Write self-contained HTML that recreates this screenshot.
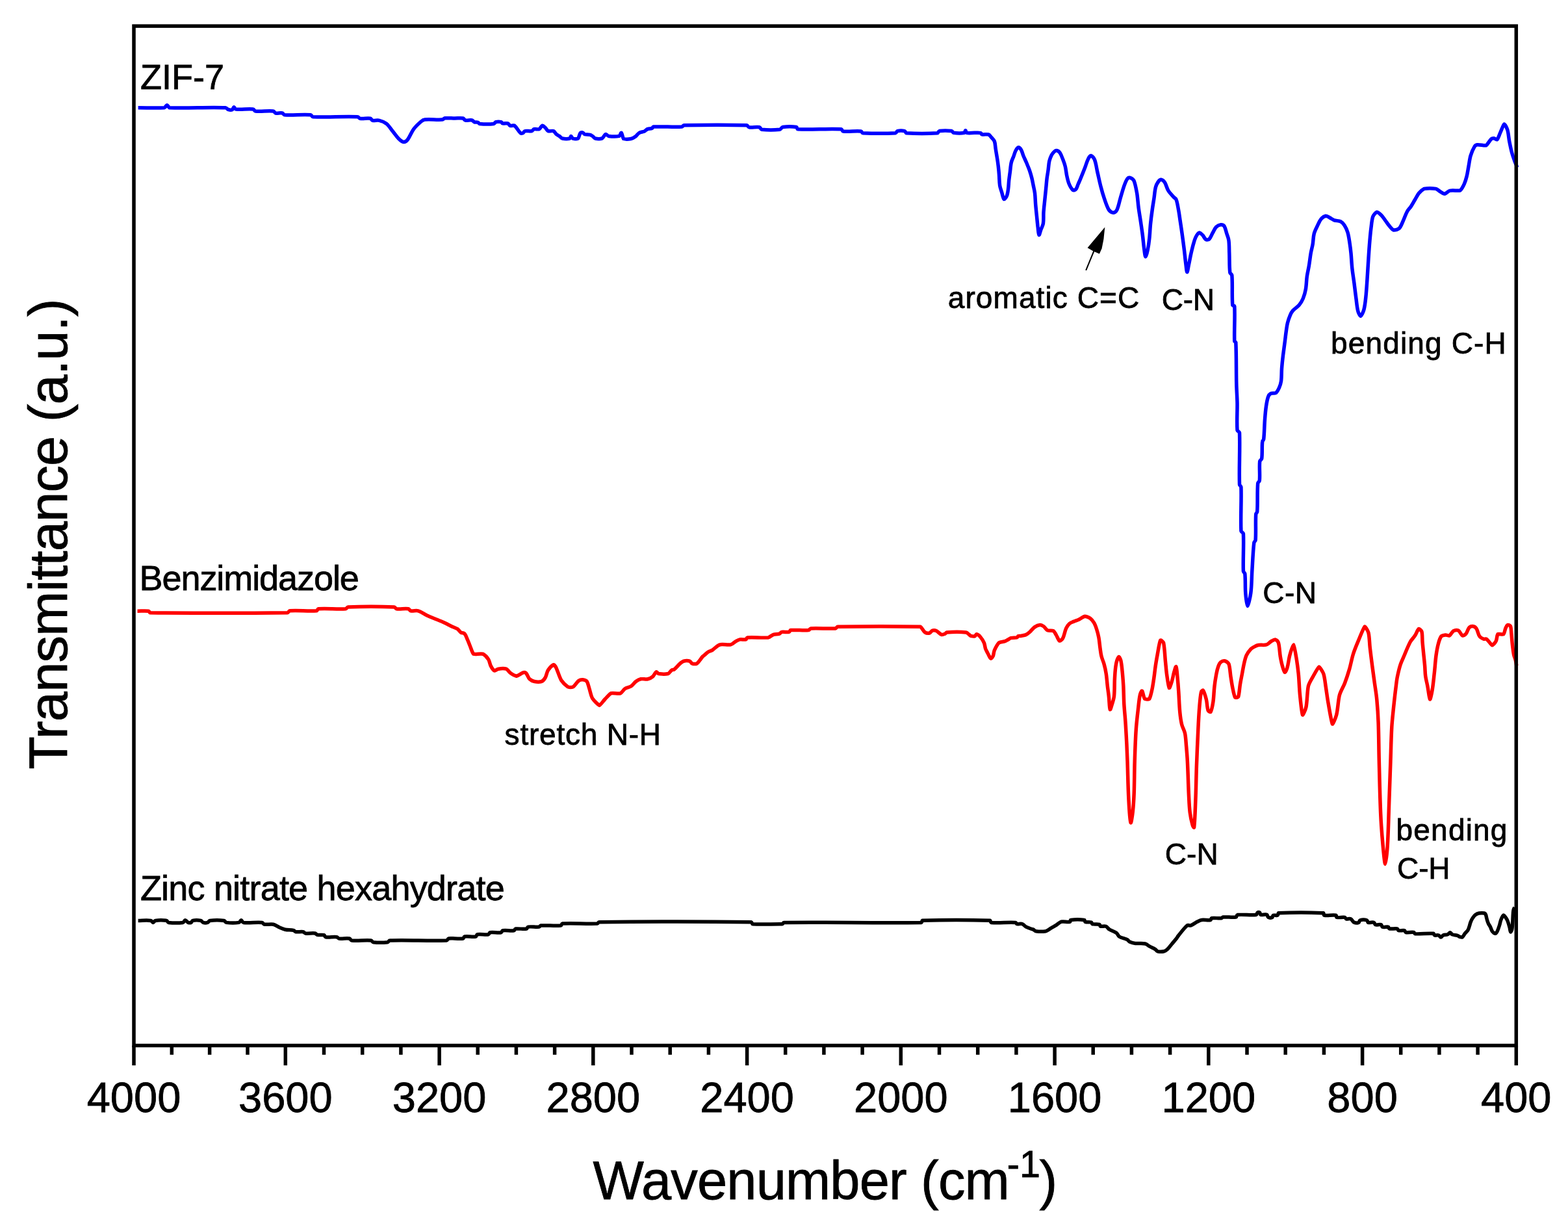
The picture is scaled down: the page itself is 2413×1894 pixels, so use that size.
<!DOCTYPE html>
<html><head><meta charset="utf-8"><title>FTIR spectra</title>
<style>html,body{margin:0;padding:0;background:#fff;}body{width:2413px;height:1894px;overflow:hidden;}svg{display:block;}</style>
</head><body>
<svg width="2413" height="1894" viewBox="0 0 2413 1894">
<rect width="2413" height="1894" fill="#fff"/>
<g fill="none" stroke-linejoin="round" stroke-linecap="butt" stroke-width="5.5">
<path stroke="#0000ff" d="M212.6,165.7C226.0,165.7 239.8,166.6 252.8,165.7C254.5,165.4 255.6,161.8 257.0,161.8C258.3,161.8 259.4,165.4 261.0,165.7C289.2,166.6 318.6,164.8 347.0,165.7C348.8,165.8 349.9,168.2 351.6,168.7C353.4,169.2 355.9,169.4 357.4,168.7C358.7,168.1 359.0,164.9 360.0,164.8C360.9,164.7 361.6,167.8 363.0,168.0C371.5,168.9 381.1,167.1 389.6,168.0C391.1,168.1 391.5,170.9 393.0,171.0C401.9,171.9 411.7,170.1 420.6,171.0C422.1,171.1 422.6,173.7 424.0,174.0C427.2,174.7 431.2,173.3 434.4,174.0C435.8,174.3 436.4,176.7 437.8,176.8C450.9,177.6 464.9,175.9 478.0,176.8C479.5,176.9 480.0,179.7 481.5,179.8C504.1,180.7 527.7,179.0 550.4,179.8C551.8,179.8 552.5,182.1 553.9,182.3C559.1,183.0 564.9,181.5 570.0,182.3C571.4,182.5 572.0,185.0 573.4,185.3C576.6,186.0 580.4,184.5 583.7,185.3C587.6,186.2 591.8,188.0 595.0,190.5C598.7,193.6 601.3,198.2 604.4,202.0C607.5,205.8 610.1,210.1 613.6,213.5C615.8,215.7 619.1,218.1 621.6,218.6C623.4,218.5 626.0,216.5 627.4,214.7C631.0,209.9 632.9,203.5 636.6,198.6C639.8,194.3 643.9,190.5 648.0,187.0C649.6,185.6 651.7,184.2 653.8,184.0C662.4,183.2 671.5,184.6 680.2,184.0C681.9,183.9 683.1,182.0 684.8,181.8C689.7,181.3 694.9,182.0 700.0,182.0C704.2,182.0 708.7,181.3 712.6,182.0C714.0,182.3 714.6,184.7 716.0,185.0C719.2,185.7 723.2,184.3 726.4,185.0C727.8,185.3 728.6,187.3 729.9,187.8C731.6,188.4 733.9,187.7 735.6,188.3C736.6,188.6 737.0,190.4 738.0,190.5C745.0,191.1 752.8,191.3 759.7,190.5C761.2,190.3 761.8,188.0 763.2,187.6C765.6,187.0 768.8,187.1 771.2,187.6C772.2,187.8 772.5,189.7 773.5,189.9C776.0,190.4 779.2,189.2 781.6,189.9C783.0,190.3 783.6,192.8 785.0,193.3C787.0,194.0 790.2,192.4 791.9,193.3C795.3,196.1 797.7,201.7 801.1,204.8C801.9,205.5 803.5,205.2 804.5,204.8C805.8,204.2 806.5,201.9 808.0,201.6C811.1,200.9 815.1,202.3 818.3,201.6C819.7,201.3 820.4,199.0 821.8,198.6C824.2,198.0 827.6,199.5 829.8,198.6C831.7,197.7 832.8,193.8 834.4,193.3C835.7,193.1 837.7,195.1 839.0,196.3C840.7,197.9 841.7,200.7 843.6,201.6C845.9,202.5 849.4,200.7 851.7,201.6C853.6,202.4 854.5,205.2 856.2,206.6C857.5,207.8 859.3,208.4 860.8,209.4C862.4,210.5 863.6,212.6 865.4,213.0C869.0,213.8 873.6,213.9 876.9,213.0C878.1,212.7 878.1,209.4 878.8,209.4C879.6,209.4 880.2,212.6 881.5,213.0C883.8,213.8 887.8,213.9 889.6,213.0C891.2,211.4 891.4,207.0 893.0,204.8C893.7,203.9 895.5,203.6 896.5,203.9C897.8,204.2 898.6,206.2 899.9,206.6C902.4,207.3 905.4,206.6 908.0,207.3C909.6,207.7 911.1,209.0 912.5,210.0C913.7,210.9 914.6,212.7 916.0,213.0C919.2,213.7 923.4,213.9 926.3,213.0C928.5,211.9 930.0,207.5 932.0,206.6C933.3,206.3 934.9,209.2 936.7,209.4C941.9,210.1 948.1,210.3 952.8,209.4C954.3,208.7 955.4,203.8 956.2,204.3C957.5,205.2 958.0,211.8 959.6,213.5C962.3,214.4 967.4,214.2 971.1,213.5C973.6,213.0 975.9,211.5 978.0,210.0C980.2,208.4 981.5,205.6 983.8,204.3C986.1,203.0 989.3,203.1 991.8,202.0C993.5,201.2 994.7,199.3 996.4,198.6C998.5,197.8 1001.2,198.2 1003.3,197.4C1004.3,197.0 1004.5,195.2 1005.6,195.1C1019.9,194.4 1034.9,195.8 1049.3,195.1C1050.6,195.0 1051.3,192.8 1052.7,192.8C1084.6,192.1 1117.4,191.9 1149.2,192.8C1150.7,192.9 1151.2,195.6 1152.7,195.8C1157.7,196.6 1163.7,194.9 1168.7,195.8C1170.2,196.1 1170.7,199.1 1172.2,199.3C1181.1,200.2 1191.1,200.2 1200.0,199.3C1201.8,199.0 1202.8,195.8 1204.6,195.5C1211.3,194.6 1219.2,194.6 1225.7,195.5C1226.8,195.7 1226.5,198.7 1227.6,198.8C1249.4,199.7 1272.8,197.9 1294.7,198.8C1296.0,198.9 1296.1,201.8 1297.4,202.0C1306.2,202.9 1316.1,201.2 1325.0,202.0C1326.3,202.1 1326.5,204.6 1327.8,204.7C1344.3,205.5 1361.9,205.6 1378.3,204.7C1379.6,204.6 1379.8,201.9 1381.0,201.6C1384.4,200.8 1388.7,200.8 1392.1,201.6C1393.4,201.9 1393.6,204.6 1394.9,204.7C1410.4,205.6 1427.1,205.6 1442.6,204.7C1443.9,204.6 1444.1,201.8 1445.4,201.6C1451.5,200.8 1458.6,200.9 1464.7,201.6C1465.9,201.8 1466.3,204.1 1467.5,204.3C1472.7,205.0 1479.1,205.2 1484.0,204.3C1485.1,204.0 1485.2,200.7 1485.8,200.7C1486.4,200.7 1486.5,204.0 1487.7,204.3C1491.3,205.2 1495.9,204.2 1500.0,204.3C1503.1,204.3 1506.6,203.9 1509.4,204.6C1510.3,204.8 1510.2,206.7 1511.1,206.9C1514.1,207.5 1518.2,206.0 1521.1,206.9C1523.0,207.6 1524.3,209.9 1525.8,211.6C1527.4,213.5 1529.6,215.2 1530.4,217.5C1531.7,221.1 1531.6,225.3 1532.2,229.2C1532.9,233.9 1533.8,238.5 1534.5,243.2C1535.2,247.5 1535.8,251.8 1536.3,256.1C1536.8,260.4 1537.2,264.7 1537.5,269.0C1537.9,274.5 1537.8,280.0 1538.6,285.4C1539.1,289.0 1540.5,292.4 1541.6,295.9C1542.7,299.5 1543.7,305.2 1545.1,306.5C1545.8,307.0 1548.4,303.7 1549.2,301.8C1550.6,298.6 1551.0,294.8 1551.5,291.2C1552.2,286.6 1552.2,281.9 1552.7,277.2C1553.2,272.9 1553.8,268.6 1554.4,264.3C1555.0,259.6 1555.2,254.9 1556.2,250.3C1556.9,247.1 1558.5,244.0 1559.7,240.9C1560.9,237.8 1561.6,234.4 1563.2,231.5C1564.2,229.7 1565.9,227.0 1567.3,226.8C1568.5,226.7 1570.5,228.9 1571.4,230.4C1573.0,233.2 1573.6,236.6 1574.9,239.7C1576.4,243.3 1578.1,246.7 1579.6,250.3C1581.2,254.2 1582.9,258.0 1584.3,262.0C1585.6,265.8 1586.8,269.8 1587.8,273.7C1588.8,277.6 1589.4,281.5 1590.2,285.4C1591.0,289.3 1592.0,293.2 1592.5,297.1C1593.2,302.9 1593.2,308.8 1593.7,314.7C1594.2,320.5 1594.8,326.4 1595.4,332.2C1596.0,338.1 1596.5,343.9 1597.2,349.8C1597.7,353.7 1598.0,360.8 1598.9,361.5C1599.6,362.0 1600.9,356.0 1601.9,353.3C1603.1,350.2 1604.9,347.2 1605.4,343.9C1606.3,338.2 1605.6,332.2 1606.0,326.4C1606.4,320.5 1607.1,314.7 1607.7,308.8C1608.3,302.9 1608.9,297.1 1609.5,291.2C1610.1,285.4 1610.5,279.5 1611.2,273.7C1611.7,269.8 1612.5,265.9 1613.0,262.0C1613.7,257.3 1613.8,252.5 1614.8,247.9C1615.5,244.7 1616.8,241.5 1618.3,238.5C1619.2,236.8 1620.4,235.2 1621.8,233.9C1622.9,232.8 1624.6,231.3 1625.9,231.5C1627.7,231.7 1629.9,233.4 1631.1,235.0C1633.2,238.1 1634.4,242.0 1635.8,245.6C1637.1,249.0 1638.4,252.5 1639.3,256.1C1640.4,260.7 1640.7,265.5 1641.7,270.2C1642.6,274.5 1643.5,279.0 1645.2,283.0C1646.6,286.4 1648.8,290.4 1651.1,292.4C1652.1,293.1 1654.8,292.3 1655.7,291.2C1657.5,289.2 1658.1,285.7 1659.3,283.0C1660.4,280.5 1661.6,278.0 1662.6,275.5C1665.0,269.7 1667.3,263.9 1669.6,258.0C1671.4,253.3 1672.6,248.3 1674.9,243.9C1675.8,242.1 1678.0,239.4 1679.2,239.5C1680.8,240.0 1683.6,243.2 1684.5,245.7C1686.8,251.7 1687.4,258.6 1688.9,265.0C1690.7,272.6 1692.2,280.3 1694.2,287.8C1695.7,293.7 1697.4,299.6 1699.4,305.4C1701.5,311.4 1703.4,317.8 1706.5,323.0C1708.0,325.0 1711.4,327.1 1713.5,327.3C1715.2,327.1 1717.8,324.9 1718.8,323.0C1721.3,317.7 1722.3,311.3 1724.0,305.4C1725.8,299.5 1727.3,293.6 1729.3,287.8C1730.8,283.6 1732.2,279.0 1734.6,275.5C1735.5,274.2 1737.6,273.1 1739.0,273.4C1741.1,274.0 1743.9,276.1 1745.1,278.2C1747.3,283.7 1748.4,290.4 1749.5,296.6C1750.8,304.1 1751.1,311.8 1752.1,319.4C1753.1,327.1 1754.5,334.7 1755.6,342.3C1756.5,348.7 1757.5,355.2 1758.3,361.6C1759.3,369.2 1759.8,376.8 1760.9,384.4C1761.4,388.0 1762.1,395.0 1763.0,395.0C1763.9,395.0 1765.5,388.0 1766.2,384.4C1767.4,378.6 1768.2,372.8 1768.8,366.9C1769.6,359.3 1769.8,351.6 1770.6,344.0C1771.3,337.0 1772.2,330.0 1773.2,323.0C1774.0,317.1 1775.0,311.3 1775.9,305.4C1776.8,299.5 1777.0,293.5 1778.5,287.8C1779.3,284.7 1781.0,281.5 1782.9,279.0C1783.9,277.7 1785.9,276.2 1787.3,276.4C1789.1,276.8 1791.3,278.9 1792.5,280.8C1794.8,284.5 1795.5,289.3 1797.8,293.1C1800.2,296.9 1803.6,300.2 1806.6,303.6C1807.7,304.8 1809.6,305.6 1810.1,307.1C1811.9,312.1 1812.6,317.7 1813.6,323.0C1814.7,328.8 1815.4,334.7 1816.3,340.5C1817.2,346.4 1818.1,352.2 1818.9,358.1C1820.1,366.9 1821.3,375.6 1822.4,384.4C1823.3,392.0 1824.0,399.7 1825.0,407.3C1825.5,411.1 1826.1,418.7 1826.8,418.7C1827.5,418.7 1828.6,411.1 1829.4,407.3C1830.7,401.4 1831.7,395.5 1833.0,389.7C1834.1,385.0 1835.2,380.3 1836.5,375.6C1837.5,372.1 1838.4,368.4 1840.0,365.1C1841.3,362.5 1843.4,359.0 1845.2,358.1C1846.5,357.9 1849.0,360.1 1850.5,361.6C1852.6,363.6 1853.7,367.3 1855.8,368.6C1857.1,369.3 1859.9,368.8 1861.0,367.7C1863.3,365.3 1864.5,361.3 1866.3,358.1C1868.0,355.1 1869.3,351.6 1871.6,349.3C1873.4,347.5 1876.2,346.1 1878.6,345.8C1880.3,345.6 1882.9,346.5 1883.9,347.8C1885.9,351.0 1886.6,355.7 1887.9,359.7C1889.0,363.0 1890.5,366.3 1890.9,369.7C1891.8,376.2 1891.5,383.0 1891.8,389.6C1892.2,399.5 1891.7,409.8 1892.8,419.4C1893.0,421.0 1895.7,421.8 1895.8,423.4C1897.0,438.4 1895.6,454.4 1896.8,469.2C1896.9,470.4 1899.7,470.1 1899.8,471.2C1900.7,488.6 1899.2,507.3 1899.8,524.9C1899.8,525.8 1901.8,526.0 1901.8,526.9C1902.8,547.9 1902.3,569.4 1902.8,590.6C1903.0,600.4 1903.8,610.2 1904.0,620.0C1904.2,633.9 1903.1,648.3 1904.0,661.8C1904.2,663.4 1907.3,664.2 1907.5,665.8C1908.4,691.9 1906.7,719.1 1907.5,745.4C1907.5,746.9 1909.8,747.9 1909.9,749.4C1910.6,771.7 1909.0,794.9 1909.9,817.0C1910.1,818.6 1913.2,819.4 1913.4,821.0C1914.3,839.9 1912.7,859.7 1913.4,878.8C1913.5,880.3 1915.6,881.2 1915.8,882.7C1916.8,892.5 1916.0,902.7 1916.8,912.6C1917.3,919.3 1918.9,932.4 1919.8,932.5C1920.8,932.4 1923.9,919.4 1924.8,912.6C1926.3,901.5 1926.1,890.1 1926.8,878.8C1927.7,864.2 1928.2,849.4 1929.8,835.0C1930.0,833.5 1932.0,832.5 1932.1,831.0C1933.0,817.9 1931.9,804.3 1932.7,791.2C1932.8,789.7 1934.6,788.7 1934.7,787.2C1935.6,772.7 1934.6,757.8 1935.7,743.4C1935.8,741.8 1938.2,741.0 1938.3,739.4C1939.2,729.7 1937.7,719.2 1938.7,709.6C1938.9,708.0 1941.5,707.2 1941.7,705.6C1942.8,697.2 1941.8,688.2 1942.7,679.7C1942.8,678.2 1944.5,677.2 1944.7,675.7C1945.8,665.6 1945.7,655.2 1946.5,645.0C1947.0,638.3 1947.5,631.6 1948.5,625.0C1949.2,620.1 1950.0,615.1 1951.6,610.5C1952.3,608.6 1953.8,606.4 1955.5,605.5C1957.7,604.4 1961.5,605.7 1963.5,604.5C1965.6,602.8 1967.2,599.4 1968.5,596.6C1969.9,593.5 1971.0,590.0 1971.5,586.6C1972.4,580.1 1972.0,573.3 1972.5,566.7C1973.0,560.1 1973.7,553.4 1974.5,546.8C1975.4,539.5 1976.5,532.2 1977.4,524.9C1978.1,519.6 1978.6,514.3 1979.4,509.0C1980.0,505.0 1980.4,500.9 1981.4,497.0C1982.4,493.0 1983.8,488.9 1985.4,485.1C1986.4,482.6 1987.7,480.1 1989.4,478.1C1992.3,474.8 1996.5,472.6 1999.3,469.2C2001.8,466.3 2003.8,462.8 2005.3,459.2C2007.1,454.8 2008.5,450.0 2009.3,445.3C2010.5,438.8 2010.4,432.0 2011.3,425.4C2012.0,420.1 2013.4,414.8 2014.3,409.5C2015.4,402.9 2016.1,396.2 2017.2,389.6C2018.0,384.9 2019.4,380.3 2020.2,375.6C2021.1,370.3 2020.9,364.8 2022.2,359.7C2023.2,355.6 2025.3,351.7 2027.2,347.8C2029.0,344.0 2030.6,339.9 2033.2,336.8C2034.9,334.7 2037.8,332.7 2040.1,332.2C2041.9,332.0 2044.2,333.8 2046.1,334.8C2048.5,336.0 2050.6,337.9 2053.1,338.8C2056.2,339.9 2060.1,339.4 2063.0,340.8C2065.4,342.0 2067.5,344.5 2069.0,346.8C2071.1,350.1 2072.9,353.9 2074.0,357.7C2075.5,362.8 2076.2,368.3 2077.0,373.6C2077.8,378.9 2078.5,384.3 2079.0,389.6C2079.8,397.6 2080.0,405.6 2080.9,413.5C2081.7,420.8 2082.9,428.0 2083.9,435.3C2084.9,443.3 2085.8,451.2 2086.9,459.2C2087.8,465.8 2088.2,472.7 2089.9,479.1C2090.6,481.8 2093.0,486.6 2093.9,486.4C2095.3,485.7 2098.0,480.0 2098.9,476.5C2100.6,470.1 2101.2,463.3 2101.9,456.6C2102.8,448.0 2103.3,439.3 2103.9,430.7C2104.6,420.1 2105.2,409.5 2105.9,398.9C2106.5,389.6 2107.1,380.3 2107.9,371.0C2108.5,364.4 2109.0,357.7 2109.9,351.1C2110.7,345.1 2111.0,338.7 2112.8,333.2C2113.9,330.5 2117.0,326.9 2118.8,326.2C2120.6,326.3 2123.8,329.2 2125.8,331.2C2128.1,333.5 2129.8,336.5 2131.8,339.1C2133.8,341.8 2135.5,344.6 2137.7,347.1C2139.8,349.6 2142.4,353.0 2144.7,354.1C2147.1,354.2 2151.4,352.8 2153.6,351.1C2156.2,348.0 2157.7,343.2 2159.6,339.1C2161.7,334.5 2163.2,329.6 2165.6,325.2C2167.2,322.3 2169.8,320.0 2171.6,317.2C2173.7,314.0 2175.5,310.6 2177.5,307.3C2179.5,304.0 2181.1,300.3 2183.5,297.3C2185.7,294.6 2188.7,291.7 2191.5,290.4C2196.9,289.5 2203.8,289.5 2209.4,290.4C2212.2,291.1 2214.6,293.9 2217.3,295.4C2219.2,296.5 2221.4,298.4 2223.3,298.3C2225.9,297.7 2228.4,294.1 2231.3,293.4C2236.3,292.4 2242.9,294.0 2247.2,293.0C2249.4,291.1 2251.6,286.8 2253.2,283.4C2254.9,279.6 2256.1,275.5 2257.1,271.5C2258.4,266.2 2259.1,260.8 2260.1,255.5C2261.1,250.2 2261.6,244.7 2263.1,239.6C2264.6,234.8 2266.6,229.9 2269.1,225.7C2269.9,224.3 2271.5,222.9 2273.1,222.7C2277.5,222.2 2283.3,224.3 2287.0,223.7C2289.8,221.7 2292.0,216.5 2295.0,213.7C2295.9,212.8 2297.6,212.6 2298.9,212.7C2300.6,212.9 2303.0,215.3 2303.9,214.7C2305.9,212.5 2307.2,207.4 2308.9,203.8C2310.9,199.5 2313.4,192.0 2314.9,190.9C2315.8,190.7 2318.9,196.6 2319.8,199.8C2321.5,205.5 2321.6,211.8 2322.8,217.7C2324.0,223.7 2325.2,229.7 2326.8,235.6C2327.9,239.7 2329.4,243.6 2330.8,247.6C2332.0,250.9 2333.5,254.2 2334.8,257.5"/>
<path stroke="#ff0000" d="M211.5,940.2C217.2,940.2 223.3,939.5 228.7,940.2C229.8,940.3 229.9,942.7 231.0,942.7C301.1,943.5 372.3,943.6 442.4,942.7C443.9,942.6 444.4,939.9 445.9,939.8C459.4,938.9 473.8,940.7 487.2,939.8C488.5,939.7 488.7,936.9 490.0,936.8C503.6,935.9 518.3,937.6 532.0,936.8C533.5,936.7 534.0,934.1 535.5,934.0C558.9,933.1 583.3,933.1 606.7,934.0C608.2,934.1 608.8,936.6 610.2,936.8C616.0,937.5 622.7,936.0 628.5,936.8C630.0,937.0 630.6,939.5 632.0,939.8C635.6,940.5 639.9,938.9 643.5,939.8C648.3,941.3 652.6,944.9 657.3,947.1C661.8,949.2 666.4,950.9 671.0,952.8C674.8,954.4 678.7,955.7 682.5,957.4C685.6,958.8 688.6,960.5 691.7,962.0C693.0,962.6 694.2,963.3 695.5,963.9C698.2,965.2 701.3,965.9 703.8,967.6C705.9,969.0 707.2,971.7 709.3,973.1C710.9,974.1 713.6,973.6 714.8,974.9C717.0,977.2 718.0,981.0 719.4,984.1C720.8,987.1 721.8,990.2 723.1,993.3C724.9,997.6 726.5,1003.6 728.6,1006.2C732.0,1007.1 739.0,1005.3 743.3,1006.2C746.3,1007.9 749.5,1011.2 751.6,1014.4C753.5,1017.4 753.6,1021.4 755.3,1024.6C756.7,1027.3 758.8,1030.8 760.8,1031.9C762.4,1032.2 765.0,1029.5 767.2,1029.2C771.1,1028.6 775.7,1028.3 779.2,1029.2C781.6,1030.3 783.2,1033.9 785.6,1035.6C788.4,1037.6 792.0,1039.8 794.8,1040.2C798.2,1039.5 802.1,1035.9 805.8,1034.7C807.0,1034.3 808.7,1034.7 809.5,1035.6C811.8,1038.1 812.6,1042.4 815.0,1044.8C816.9,1046.7 819.8,1048.0 822.4,1048.5C825.9,1049.2 830.2,1049.4 833.4,1048.5C835.6,1047.6 837.6,1045.2 838.9,1043.0C841.0,1039.4 841.3,1034.5 843.5,1031.0C845.6,1027.8 849.3,1024.0 851.8,1022.7C852.8,1022.4 854.6,1024.9 855.4,1026.4C858.6,1032.8 860.2,1040.4 863.7,1046.6C866.3,1050.4 870.2,1054.3 873.8,1056.7C876.1,1057.6 879.9,1057.6 882.1,1056.7C885.2,1054.6 887.2,1049.9 890.4,1047.5C892.1,1046.2 894.7,1045.5 896.8,1045.7C899.0,1045.9 901.9,1046.9 903.2,1048.5C905.1,1051.4 905.7,1055.8 906.9,1059.5C908.5,1064.4 909.2,1069.8 911.5,1074.2C914.3,1078.3 919.9,1083.9 922.5,1085.2C924.3,1084.5 928.0,1079.0 930.8,1076.0C933.8,1072.9 936.8,1068.8 940.0,1066.8C944.2,1065.9 950.4,1067.7 954.7,1066.8C957.4,1065.4 959.2,1061.4 962.0,1059.5C964.7,1057.7 968.6,1057.6 971.3,1055.8C974.1,1053.9 975.9,1050.5 978.6,1048.5C980.8,1046.9 983.4,1045.3 986.0,1044.8C989.5,1044.1 993.5,1045.5 997.0,1044.8C999.6,1044.3 1002.3,1042.8 1004.3,1041.1C1006.6,1039.2 1007.9,1034.9 1009.9,1033.8C1010.8,1033.4 1012.1,1036.3 1013.5,1036.5C1018.2,1037.2 1023.8,1037.4 1028.2,1036.5C1030.3,1035.7 1031.7,1032.4 1033.8,1031.0C1034.8,1030.3 1036.5,1030.8 1037.4,1030.1C1040.7,1027.5 1043.4,1023.7 1046.6,1020.9C1048.3,1019.4 1050.0,1017.7 1052.1,1017.2C1054.9,1016.5 1058.6,1016.4 1061.3,1017.2C1062.9,1017.6 1063.5,1020.4 1065.0,1020.9C1067.2,1021.6 1070.5,1021.8 1072.4,1020.9C1075.8,1018.3 1078.4,1013.4 1081.5,1009.9C1082.0,1009.3 1082.8,1009.0 1083.4,1008.5C1085.7,1006.6 1087.8,1004.3 1090.3,1002.7C1092.0,1001.6 1094.4,1001.5 1096.1,1000.4C1098.6,998.8 1100.6,996.4 1103.0,994.7C1104.8,993.5 1106.6,992.0 1108.7,991.7C1113.9,991.0 1119.7,992.6 1124.8,991.7C1127.3,991.1 1129.3,988.5 1131.7,987.1C1133.9,985.9 1136.2,984.4 1138.6,983.9C1141.5,983.3 1145.1,984.6 1147.8,983.9C1148.9,983.6 1148.9,981.0 1150.1,980.9C1160.4,980.0 1171.9,981.8 1182.3,980.9C1185.1,980.3 1187.4,977.3 1190.3,976.3C1193.2,975.3 1196.6,976.0 1199.5,975.1C1200.8,974.7 1201.5,972.6 1202.9,972.4C1206.5,971.7 1210.9,973.1 1214.4,972.4C1215.5,972.2 1215.5,969.7 1216.7,969.6C1225.5,968.8 1235.4,970.4 1244.3,969.6C1245.7,969.5 1246.3,967.0 1247.7,966.9C1260.1,966.1 1273.3,967.7 1285.7,966.9C1287.1,966.8 1287.7,964.3 1289.1,964.3C1331.3,963.5 1375.4,963.4 1416.6,964.3C1418.8,965.6 1420.7,970.9 1423.5,972.9C1425.3,974.1 1428.3,974.5 1430.4,974.0C1432.2,973.6 1433.2,970.7 1435.0,970.1C1436.7,969.5 1439.1,969.8 1440.8,970.6C1443.7,971.9 1445.9,975.4 1448.8,976.3C1450.5,976.9 1452.8,975.8 1454.5,975.1C1455.4,974.7 1455.8,973.0 1456.8,972.9C1466.5,972.2 1477.0,972.0 1486.7,972.9C1488.5,973.1 1489.7,975.2 1491.3,976.3C1492.4,977.1 1493.5,978.3 1494.8,978.6C1496.6,979.0 1498.9,979.2 1500.5,978.6C1501.5,978.2 1501.9,975.7 1502.8,975.8C1504.5,976.0 1507.0,978.0 1508.5,979.7C1510.8,982.4 1512.9,985.6 1514.3,988.9C1515.6,991.8 1515.6,995.1 1516.6,998.1C1517.5,1000.5 1518.8,1002.7 1520.0,1005.0C1521.5,1007.7 1523.0,1012.0 1524.6,1013.1C1525.4,1013.5 1527.4,1011.1 1528.1,1009.6C1529.4,1006.8 1529.1,1003.3 1530.4,1000.4C1532.2,996.4 1534.5,991.8 1537.3,988.9C1539.6,987.4 1543.5,987.6 1546.5,986.6C1548.1,986.1 1549.6,985.1 1551.1,984.3C1552.6,983.5 1553.9,982.0 1555.6,981.6C1558.5,980.9 1562.0,981.6 1564.8,980.9C1565.8,980.6 1566.2,979.0 1567.1,978.6C1567.9,978.2 1569.0,978.6 1570.0,978.5C1572.7,978.1 1575.7,977.9 1578.2,976.9C1580.4,976.0 1582.5,974.4 1584.3,972.8C1587.2,970.3 1589.4,966.7 1592.5,964.6C1594.9,963.0 1598.0,961.7 1600.7,961.5C1602.4,961.4 1604.4,962.5 1605.9,963.6C1608.2,965.3 1609.6,968.5 1612.0,969.7C1614.6,970.9 1618.7,969.5 1621.2,970.7C1623.0,971.9 1624.0,974.8 1625.3,976.9C1627.1,979.9 1628.8,984.8 1630.5,986.1C1631.5,986.4 1634.6,983.9 1635.6,982.0C1638.0,977.4 1638.5,971.5 1640.7,966.6C1641.9,964.0 1643.7,961.4 1645.8,959.5C1647.5,958.0 1649.9,957.3 1652.0,956.4C1654.7,955.2 1657.6,954.5 1660.2,953.3C1663.4,951.8 1666.4,948.8 1669.4,948.2C1671.9,948.2 1675.3,949.7 1677.6,951.3C1680.1,953.1 1682.1,955.7 1683.7,958.4C1685.5,961.5 1686.7,965.2 1687.8,968.7C1689.1,972.7 1690.1,976.8 1690.9,981.0C1691.9,986.4 1692.2,991.9 1693.0,997.4C1693.6,1001.5 1694.0,1005.7 1695.0,1009.7C1696.0,1013.9 1698.0,1017.8 1699.1,1022.0C1700.4,1026.7 1701.5,1031.5 1702.2,1036.3C1703.2,1042.4 1703.5,1048.6 1704.2,1054.8C1704.8,1060.2 1705.7,1065.7 1706.3,1071.1C1707.1,1077.9 1707.1,1088.7 1708.3,1091.6C1708.8,1092.8 1710.6,1086.2 1711.4,1083.4C1712.6,1079.4 1714.1,1075.3 1714.5,1071.1C1715.4,1061.7 1714.9,1052.0 1715.5,1042.5C1715.9,1035.7 1716.2,1028.7 1717.5,1022.0C1718.2,1018.1 1720.1,1012.1 1721.6,1010.7C1722.3,1010.1 1724.2,1013.9 1724.7,1015.8C1725.9,1020.4 1726.3,1025.4 1726.8,1030.2C1727.7,1038.4 1728.3,1046.6 1728.8,1054.8C1729.3,1064.3 1729.3,1073.9 1729.8,1083.4C1730.3,1092.3 1731.3,1101.2 1731.9,1110.1C1732.7,1121.7 1733.3,1133.3 1733.9,1144.9C1734.3,1153.8 1734.7,1162.7 1735.0,1171.6C1735.7,1191.4 1735.9,1211.2 1737.0,1231.0C1737.6,1242.6 1738.8,1261.6 1740.1,1265.8C1740.6,1267.8 1742.6,1254.9 1743.2,1249.4C1744.3,1239.9 1744.8,1230.3 1745.2,1220.7C1745.8,1204.3 1745.7,1188.0 1746.2,1171.6C1746.7,1155.2 1747.2,1138.8 1748.3,1122.4C1749.0,1112.1 1750.2,1101.9 1751.4,1091.6C1752.3,1084.1 1752.8,1076.4 1754.4,1069.1C1754.9,1066.9 1756.8,1062.4 1757.5,1063.0C1758.9,1064.4 1759.7,1072.4 1761.6,1075.2C1763.0,1076.1 1767.6,1076.1 1768.8,1075.2C1770.7,1071.8 1771.8,1065.7 1772.9,1060.9C1774.2,1054.8 1775.0,1048.6 1775.9,1042.5C1776.7,1037.0 1777.2,1031.6 1778.0,1026.1C1778.9,1019.9 1779.9,1013.7 1781.1,1007.6C1782.5,1000.1 1783.8,990.1 1785.8,985.1C1786.1,984.2 1790.0,987.3 1790.6,989.0C1792.4,998.1 1792.5,1008.3 1793.5,1018.0C1794.2,1024.4 1794.6,1030.9 1795.5,1037.3C1796.5,1044.4 1797.9,1055.8 1799.3,1058.5C1799.8,1059.6 1802.2,1052.2 1803.2,1048.9C1804.8,1043.8 1805.5,1038.5 1807.0,1033.4C1807.8,1030.8 1809.3,1024.8 1809.9,1025.7C1811.0,1027.4 1811.4,1036.0 1811.9,1041.1C1812.7,1048.8 1813.3,1056.6 1813.8,1064.3C1814.5,1074.6 1814.7,1084.9 1815.7,1095.2C1816.3,1101.7 1817.1,1108.3 1818.6,1114.6C1819.7,1119.2 1822.5,1123.5 1823.5,1128.1C1824.7,1133.8 1824.9,1139.7 1825.4,1145.5C1826.1,1153.9 1826.9,1162.2 1827.3,1170.6C1828.2,1187.3 1828.5,1204.1 1829.3,1220.8C1829.8,1230.5 1830.0,1240.2 1831.2,1249.8C1832.0,1256.3 1833.4,1262.8 1835.1,1269.1C1835.5,1270.6 1837.4,1274.3 1837.6,1273.0C1839.0,1261.4 1839.3,1244.7 1839.9,1230.5C1840.6,1213.1 1840.8,1195.7 1841.4,1178.3C1842.1,1159.6 1842.9,1141.0 1843.8,1122.3C1844.3,1111.3 1844.8,1100.3 1845.7,1089.4C1846.4,1081.0 1846.9,1072.2 1848.6,1064.3C1848.8,1063.2 1851.0,1061.7 1851.5,1062.4C1853.6,1065.5 1855.1,1071.3 1856.3,1075.9C1857.7,1081.6 1857.4,1088.1 1859.2,1093.3C1859.7,1094.5 1862.6,1096.0 1863.1,1095.2C1864.9,1091.6 1866.1,1085.0 1866.9,1079.8C1868.0,1072.1 1868.0,1064.3 1868.9,1056.6C1869.6,1050.1 1870.6,1043.7 1871.8,1037.3C1872.5,1033.4 1873.3,1029.4 1874.7,1025.7C1875.6,1023.3 1876.6,1020.4 1878.5,1018.9C1880.2,1017.5 1883.3,1016.6 1885.3,1017.0C1887.4,1017.6 1890.1,1019.8 1891.1,1021.8C1892.9,1027.6 1893.0,1034.7 1894.0,1041.1C1894.9,1046.9 1895.7,1052.8 1896.9,1058.5C1897.9,1063.4 1898.9,1069.5 1900.7,1073.0C1901.4,1073.8 1905.0,1073.1 1905.6,1072.1C1907.3,1066.7 1907.4,1059.1 1908.5,1052.7C1909.4,1047.5 1910.4,1042.4 1911.4,1037.3C1912.4,1032.1 1913.1,1026.9 1914.3,1021.8C1915.4,1017.2 1916.2,1012.5 1918.1,1008.3C1919.7,1004.8 1922.3,1001.4 1924.9,998.6C1926.5,996.9 1928.7,995.9 1930.7,994.8C1932.5,993.8 1934.5,992.8 1936.5,992.5C1940.6,991.9 1945.1,993.0 1949.0,991.9C1951.6,991.2 1953.4,988.4 1955.8,987.0C1957.9,985.8 1960.7,983.9 1962.6,984.1C1964.3,984.6 1966.7,987.0 1967.4,989.0C1969.2,995.6 1969.1,1003.2 1970.3,1010.2C1971.1,1014.8 1971.9,1019.3 1973.2,1023.8C1974.2,1027.4 1975.8,1033.6 1977.1,1034.4C1977.9,1034.8 1980.2,1030.1 1980.9,1027.6C1982.7,1021.4 1983.1,1014.6 1984.8,1008.3C1986.3,1002.7 1989.7,991.7 1990.6,991.9C1991.7,992.5 1993.6,1004.5 1994.7,1010.9C1996.2,1019.5 1997.3,1028.1 1998.2,1036.7C1999.3,1047.6 1999.4,1058.5 2000.5,1069.4C2001.5,1079.6 2003.0,1095.4 2004.5,1099.9C2004.8,1101.5 2009.0,1092.3 2009.9,1088.2C2011.9,1077.5 2011.4,1066.0 2013.4,1055.4C2014.8,1050.5 2017.8,1045.9 2020.4,1041.3C2023.3,1036.1 2027.7,1027.7 2029.8,1026.1C2030.9,1026.2 2035.3,1032.9 2036.8,1036.7C2038.8,1043.3 2039.3,1050.7 2040.4,1057.7C2041.6,1065.5 2042.5,1073.3 2043.9,1081.1C2045.9,1092.1 2048.6,1109.4 2050.4,1113.9C2050.7,1115.4 2055.5,1104.8 2056.7,1099.9C2059.1,1090.0 2059.0,1079.3 2061.4,1069.4C2063.3,1062.9 2067.2,1057.1 2069.6,1050.7C2072.2,1043.8 2074.5,1036.7 2076.6,1029.6C2078.8,1021.9 2080.1,1013.9 2082.5,1006.2C2084.8,999.0 2087.8,992.1 2090.7,985.1C2093.7,978.0 2097.7,967.2 2100.1,964.1C2100.8,963.5 2104.9,970.0 2105.9,973.4C2107.6,980.9 2107.4,989.0 2108.3,996.8C2109.4,1006.2 2110.6,1015.5 2111.8,1024.9C2112.9,1033.5 2114.1,1042.1 2115.3,1050.7C2116.5,1059.3 2118.0,1067.9 2118.8,1076.5C2119.9,1088.2 2120.7,1099.9 2121.1,1111.6C2121.8,1131.1 2121.8,1150.6 2122.3,1170.1C2123.0,1197.4 2123.5,1224.8 2124.7,1252.1C2125.4,1268.5 2126.7,1284.9 2128.2,1301.3C2129.1,1310.7 2130.8,1329.4 2131.7,1329.4C2132.6,1329.4 2134.6,1310.7 2135.2,1301.3C2136.5,1281.0 2136.8,1260.7 2137.5,1240.4C2138.3,1217.8 2139.1,1195.1 2139.9,1172.5C2140.5,1154.5 2140.8,1136.5 2141.8,1118.6C2142.4,1108.4 2143.6,1098.3 2144.6,1088.2C2145.7,1078.0 2146.8,1067.9 2148.1,1057.7C2148.8,1052.2 2149.3,1046.7 2150.4,1041.3C2151.7,1035.0 2153.1,1028.7 2155.1,1022.6C2156.7,1017.8 2159.0,1013.2 2161.0,1008.5C2164.0,1001.5 2166.7,994.2 2170.3,987.5C2172.2,984.1 2175.3,981.4 2177.4,978.1C2179.6,974.8 2181.3,969.2 2183.2,967.6C2184.1,967.2 2187.3,969.9 2187.9,971.6C2189.1,976.4 2188.6,982.1 2189.0,987.4C2189.4,992.7 2190.0,997.9 2190.5,1003.2C2191.2,1010.2 2192.0,1017.3 2192.6,1024.3C2193.1,1029.6 2193.0,1034.9 2193.7,1040.1C2194.4,1045.4 2195.9,1050.6 2196.9,1055.9C2198.2,1062.6 2199.4,1074.8 2200.5,1075.9C2201.3,1076.6 2203.4,1066.2 2204.2,1061.2C2205.7,1052.5 2206.4,1043.6 2207.4,1034.8C2208.4,1026.0 2208.8,1017.2 2210.0,1008.5C2210.9,1002.1 2212.0,995.7 2213.7,989.5C2214.7,985.9 2215.9,981.7 2217.9,979.0C2219.3,977.6 2222.1,977.1 2224.3,976.9C2226.4,976.7 2229.0,978.6 2230.6,977.9C2233.0,976.5 2234.4,972.1 2236.9,970.6C2238.9,969.5 2242.4,969.3 2244.3,970.0C2246.7,971.6 2248.4,976.6 2250.6,977.9C2251.9,978.3 2254.7,976.7 2255.9,975.3C2258.2,972.5 2258.8,967.8 2261.1,965.3C2262.6,964.0 2265.6,963.3 2267.5,963.7C2269.3,964.0 2271.2,965.8 2272.2,967.4C2274.3,970.9 2274.6,975.7 2276.9,979.0C2278.3,981.0 2281.0,982.3 2283.3,983.2C2284.6,983.7 2286.4,982.4 2287.5,983.2C2290.8,985.6 2294.0,991.5 2296.4,992.7C2297.7,992.6 2301.0,988.9 2302.2,986.4C2303.8,983.2 2303.4,977.9 2304.9,975.8C2306.6,974.9 2311.9,976.7 2313.8,975.8C2315.4,973.9 2315.7,969.3 2317.0,966.3C2317.8,964.6 2318.7,962.2 2320.1,961.6C2321.2,961.1 2323.8,962.0 2324.4,963.2C2325.7,966.4 2325.5,970.9 2325.9,974.8C2326.5,980.8 2326.8,986.7 2327.5,992.7C2328.1,997.6 2328.6,1002.6 2329.6,1007.4C2330.2,1010.3 2331.6,1013.0 2332.3,1015.9C2333.0,1018.7 2333.3,1021.5 2333.8,1024.3"/>
<path stroke="#000000" d="M212.6,1416.4C219.1,1416.4 226.0,1415.6 232.2,1416.4C233.6,1416.6 234.5,1419.4 235.6,1419.4C236.8,1419.4 237.6,1416.6 239.1,1416.4C244.5,1415.6 250.9,1415.6 256.3,1416.4C257.6,1416.6 258.0,1419.2 259.3,1419.4C266.4,1420.2 274.6,1420.3 281.6,1419.4C283.1,1419.1 283.8,1415.7 285.0,1415.7C286.4,1415.7 287.9,1418.7 289.6,1419.4C290.9,1419.9 292.9,1419.9 294.2,1419.4C295.2,1418.9 295.4,1416.6 296.5,1416.4C300.3,1415.6 305.2,1415.7 309.1,1416.4C310.5,1416.7 311.2,1419.0 312.6,1419.4C314.7,1420.0 317.4,1420.0 319.5,1419.4C320.9,1419.0 321.5,1416.6 322.9,1416.4C329.9,1415.6 337.8,1415.6 344.8,1416.4C346.2,1416.6 346.8,1419.2 348.2,1419.4C354.4,1420.2 361.6,1420.3 367.7,1419.4C369.2,1419.1 370.0,1415.7 371.2,1415.7C372.3,1415.7 373.1,1419.1 374.6,1419.4C383.7,1420.3 394.1,1418.6 403.4,1419.4C404.8,1419.5 405.4,1422.0 406.8,1422.2C411.1,1422.9 416.2,1421.3 420.6,1422.2C423.9,1422.9 426.7,1425.4 429.8,1426.8C432.8,1428.1 435.8,1429.5 439.0,1430.2C443.1,1431.1 447.6,1430.5 451.6,1431.4C452.9,1431.7 453.8,1433.5 455.1,1433.7C458.7,1434.3 462.9,1433.1 466.5,1433.7C467.8,1433.9 468.7,1435.8 470.0,1436.0C474.8,1436.6 480.1,1435.4 484.9,1436.0C486.2,1436.2 487.1,1438.0 488.4,1438.3C491.7,1438.9 495.6,1437.9 498.7,1438.7C499.8,1439.0 499.8,1441.5 501.0,1441.7C506.3,1442.5 512.7,1441.1 518.2,1441.7C519.6,1441.9 520.4,1443.8 521.7,1444.0C526.9,1444.6 532.7,1443.2 537.8,1444.0C539.2,1444.2 539.7,1446.9 541.2,1447.0C550.8,1447.9 561.4,1446.2 571.1,1447.0C572.5,1447.1 573.1,1449.6 574.5,1449.7C581.5,1450.5 589.4,1450.5 596.4,1449.7C597.8,1449.6 598.4,1447.0 599.8,1447.0C628.6,1446.1 658.4,1447.9 687.1,1447.0C688.6,1446.9 689.2,1444.3 690.6,1444.0C693.5,1443.3 696.9,1444.0 700.0,1444.0C704.2,1444.0 708.8,1444.8 712.6,1444.0C713.7,1443.8 713.7,1441.2 714.9,1441.0C720.3,1440.2 726.9,1441.9 732.2,1441.0C733.4,1440.8 733.3,1438.0 734.5,1437.8C739.8,1436.9 746.4,1438.6 751.7,1437.8C752.9,1437.6 752.8,1435.0 754.0,1434.8C759.3,1434.0 765.9,1435.6 771.2,1434.8C772.4,1434.6 772.3,1432.0 773.5,1431.8C778.9,1431.0 785.4,1432.5 790.8,1431.8C791.9,1431.6 792.0,1429.3 793.1,1429.1C798.5,1428.4 805.0,1429.9 810.3,1429.1C811.5,1428.9 811.4,1426.3 812.6,1426.1C817.9,1425.3 824.3,1426.7 829.8,1426.1C830.8,1426.0 831.1,1424.1 832.1,1424.0C842.2,1423.4 853.2,1424.9 863.1,1424.0C864.3,1423.9 864.2,1421.1 865.4,1421.0C882.9,1420.1 901.7,1421.7 919.4,1421.0C920.5,1421.0 920.6,1418.7 921.7,1418.7C999.5,1417.9 1078.5,1417.8 1156.1,1418.7C1157.3,1418.8 1157.2,1421.6 1158.4,1421.7C1171.8,1422.6 1186.1,1421.7 1200.0,1421.7C1201.3,1421.7 1202.8,1422.1 1204.0,1421.7C1205.0,1421.4 1205.3,1419.4 1206.4,1419.4C1276.6,1418.6 1347.9,1420.3 1417.8,1419.4C1418.9,1419.3 1418.6,1416.4 1419.7,1416.3C1453.7,1415.4 1489.5,1415.4 1523.5,1416.3C1524.6,1416.4 1524.3,1419.3 1525.4,1419.4C1537.4,1420.3 1550.8,1418.7 1563.0,1419.4C1563.9,1419.5 1564.0,1421.4 1564.9,1421.6C1567.4,1422.1 1570.7,1420.8 1573.2,1421.6C1575.3,1422.2 1576.7,1424.7 1578.7,1425.8C1581.6,1427.4 1584.8,1428.4 1587.9,1429.5C1588.6,1429.8 1589.4,1429.7 1590.0,1430.0C1591.4,1430.7 1592.5,1432.5 1594.1,1432.7C1599.0,1433.4 1604.5,1433.6 1609.3,1432.7C1612.3,1432.0 1614.8,1429.5 1617.6,1427.9C1620.3,1426.3 1623.1,1424.8 1625.8,1423.1C1628.2,1421.6 1630.1,1419.0 1632.7,1418.3C1637.0,1417.4 1642.4,1419.1 1646.5,1418.3C1647.4,1418.1 1646.9,1415.6 1647.9,1415.5C1654.3,1414.7 1662.2,1414.7 1668.6,1415.5C1669.6,1415.6 1669.1,1418.0 1670.0,1418.3C1672.8,1419.2 1676.8,1418.1 1679.6,1419.0C1680.5,1419.3 1680.1,1421.5 1681.0,1421.7C1684.2,1422.6 1688.8,1421.5 1692.0,1422.4C1692.9,1422.7 1692.5,1424.9 1693.4,1425.2C1695.7,1425.9 1699.3,1424.3 1701.7,1425.2C1703.9,1425.9 1705.2,1428.7 1707.2,1430.0C1710.7,1432.2 1715.0,1433.2 1718.2,1435.5C1720.0,1436.8 1720.5,1439.8 1722.4,1441.0C1726.0,1443.3 1730.9,1443.8 1734.8,1445.8C1736.4,1446.6 1737.3,1448.6 1738.9,1449.3C1741.4,1450.4 1744.4,1451.1 1747.2,1451.4C1752.2,1452.0 1757.5,1451.0 1762.3,1452.0C1764.9,1452.6 1766.8,1454.9 1769.2,1456.2C1771.9,1457.7 1774.9,1458.7 1777.5,1460.3C1779.0,1461.2 1780.0,1463.4 1781.6,1463.8C1784.6,1464.5 1788.3,1464.5 1791.3,1463.8C1793.3,1463.3 1795.2,1461.8 1796.8,1460.3C1799.4,1457.8 1801.4,1454.8 1803.7,1452.0C1806.0,1449.3 1808.4,1446.6 1810.6,1443.8C1811.6,1442.5 1812.3,1440.9 1813.4,1439.6C1817.8,1434.2 1822.2,1428.1 1827.1,1423.8C1828.5,1422.9 1831.0,1424.4 1832.7,1423.8C1836.1,1422.6 1839.0,1420.0 1842.3,1418.3C1844.5,1417.2 1846.8,1415.8 1849.2,1415.5C1853.7,1414.9 1858.9,1416.3 1863.0,1415.5C1863.9,1415.3 1863.5,1412.9 1864.4,1412.7C1869.0,1411.9 1874.6,1413.2 1879.5,1412.7C1880.5,1412.6 1881.1,1411.1 1882.1,1411.0C1888.6,1410.5 1896.0,1411.9 1902.1,1411.0C1903.3,1410.8 1902.9,1407.8 1904.1,1407.6C1913.2,1406.7 1924.0,1408.5 1933.1,1407.6C1934.3,1407.4 1934.2,1404.7 1935.2,1404.1C1936.0,1403.6 1937.8,1403.6 1938.6,1404.1C1939.4,1404.6 1939.0,1407.0 1940.0,1407.3C1942.7,1408.1 1947.0,1406.4 1949.6,1407.3C1950.8,1407.8 1950.5,1410.8 1951.7,1411.4C1953.3,1412.2 1956.3,1412.1 1957.9,1411.4C1958.8,1411.0 1958.4,1408.6 1959.3,1408.3C1961.2,1407.6 1964.4,1409.1 1966.2,1408.3C1967.2,1407.9 1966.6,1404.9 1967.6,1404.8C1989.8,1403.9 2014.3,1403.9 2036.5,1404.8C2037.5,1404.9 2036.8,1408.1 2037.9,1408.3C2043.2,1409.2 2050.4,1407.4 2055.8,1408.3C2056.8,1408.5 2056.2,1411.2 2057.2,1411.4C2060.8,1412.2 2065.8,1410.8 2069.6,1411.4C2070.6,1411.6 2070.7,1413.6 2071.6,1413.8C2073.6,1414.4 2076.6,1412.9 2078.5,1413.8C2080.7,1414.8 2081.8,1418.3 2084.0,1419.3C2085.9,1420.2 2089.0,1420.0 2090.9,1419.3C2092.0,1418.9 2091.8,1416.1 2093.0,1415.8C2096.0,1415.0 2100.4,1415.0 2103.4,1415.8C2104.6,1416.1 2104.3,1418.9 2105.4,1419.3C2107.9,1420.1 2111.8,1418.5 2114.4,1419.3C2115.5,1419.6 2115.4,1422.3 2116.5,1422.7C2119.0,1423.5 2122.9,1421.9 2125.4,1422.7C2126.6,1423.1 2126.3,1425.8 2127.5,1426.2C2130.0,1427.0 2133.8,1425.5 2136.4,1426.2C2137.3,1426.4 2136.9,1428.7 2137.8,1428.9C2141.5,1429.6 2146.4,1428.2 2150.2,1428.9C2151.3,1429.1 2151.3,1431.4 2152.3,1431.7C2155.0,1432.4 2158.6,1431.0 2161.3,1431.7C2162.3,1432.0 2162.3,1434.3 2163.3,1434.5C2167.1,1435.2 2171.8,1433.9 2175.7,1434.5C2176.7,1434.7 2176.8,1436.7 2177.8,1436.8C2186.9,1437.3 2197.0,1435.6 2205.9,1436.3C2206.9,1436.4 2206.6,1438.7 2207.5,1439.0C2209.3,1439.6 2211.9,1438.4 2213.8,1439.0C2215.2,1439.4 2216.1,1442.1 2217.3,1442.1C2218.5,1442.1 2219.4,1439.6 2220.8,1439.0C2222.9,1438.1 2225.7,1438.6 2227.8,1437.8C2229.3,1437.2 2230.5,1434.7 2231.7,1434.7C2232.8,1434.7 2233.5,1437.2 2234.8,1437.8C2237.2,1438.8 2240.2,1438.6 2242.7,1439.4C2244.3,1439.9 2245.7,1441.2 2247.3,1441.7C2248.3,1442.0 2249.7,1442.3 2250.5,1441.7C2252.1,1440.5 2253.0,1438.0 2254.4,1436.3C2255.9,1434.4 2257.9,1432.8 2259.1,1430.8C2260.2,1428.9 2260.7,1426.6 2261.4,1424.5C2262.0,1422.7 2262.3,1420.8 2263.0,1419.1C2263.9,1416.9 2264.8,1414.7 2266.1,1412.8C2267.4,1410.8 2268.9,1408.7 2270.8,1407.3C2272.3,1406.1 2274.4,1405.3 2276.3,1405.0C2278.8,1404.6 2281.7,1404.5 2284.1,1405.0C2285.1,1405.2 2286.0,1406.3 2286.4,1407.3C2287.3,1409.2 2287.4,1411.5 2288.0,1413.6C2288.7,1416.0 2289.3,1418.4 2290.3,1420.6C2291.1,1422.5 2292.5,1424.2 2293.4,1426.1C2294.6,1428.4 2295.1,1431.1 2296.6,1433.1C2297.7,1434.5 2299.9,1436.4 2301.3,1436.3C2302.5,1436.2 2303.7,1433.8 2304.4,1432.3C2305.7,1429.6 2306.6,1426.7 2307.5,1423.8C2308.4,1421.0 2308.7,1417.9 2309.8,1415.2C2310.8,1412.7 2312.3,1409.0 2313.8,1408.1C2314.6,1407.7 2316.0,1410.1 2316.9,1411.3C2318.1,1413.0 2319.2,1414.8 2320.0,1416.7C2321.3,1420.0 2322.2,1423.5 2323.1,1426.9C2323.7,1429.2 2324.0,1433.6 2324.7,1433.9C2325.3,1434.1 2326.8,1430.4 2327.0,1428.4C2328.1,1420.2 2327.9,1411.7 2328.6,1403.4C2328.7,1401.8 2328.9,1400.3 2329.4,1398.8C2329.7,1397.8 2330.5,1396.9 2331.0,1396.0"/>
</g>
<rect x="206.0" y="40.1" width="2127.3" height="1568.5" fill="none" stroke="#000" stroke-width="5.5"/>
<g stroke="#000" stroke-width="5.5">
<line x1="206.0" y1="1608.6" x2="206.0" y2="1639.2"/>
<line x1="264.3" y1="1608.6" x2="264.3" y2="1622.8"/>
<line x1="322.6" y1="1608.6" x2="322.6" y2="1622.8"/>
<line x1="381.0" y1="1608.6" x2="381.0" y2="1622.8"/>
<line x1="439.3" y1="1608.6" x2="439.3" y2="1639.2"/>
<line x1="498.5" y1="1608.6" x2="498.5" y2="1622.8"/>
<line x1="557.7" y1="1608.6" x2="557.7" y2="1622.8"/>
<line x1="616.9" y1="1608.6" x2="616.9" y2="1622.8"/>
<line x1="676.1" y1="1608.6" x2="676.1" y2="1639.2"/>
<line x1="735.2" y1="1608.6" x2="735.2" y2="1622.8"/>
<line x1="794.4" y1="1608.6" x2="794.4" y2="1622.8"/>
<line x1="853.6" y1="1608.6" x2="853.6" y2="1622.8"/>
<line x1="912.8" y1="1608.6" x2="912.8" y2="1639.2"/>
<line x1="972.0" y1="1608.6" x2="972.0" y2="1622.8"/>
<line x1="1031.2" y1="1608.6" x2="1031.2" y2="1622.8"/>
<line x1="1090.4" y1="1608.6" x2="1090.4" y2="1622.8"/>
<line x1="1149.6" y1="1608.6" x2="1149.6" y2="1639.2"/>
<line x1="1208.7" y1="1608.6" x2="1208.7" y2="1622.8"/>
<line x1="1267.9" y1="1608.6" x2="1267.9" y2="1622.8"/>
<line x1="1327.1" y1="1608.6" x2="1327.1" y2="1622.8"/>
<line x1="1386.3" y1="1608.6" x2="1386.3" y2="1639.2"/>
<line x1="1445.5" y1="1608.6" x2="1445.5" y2="1622.8"/>
<line x1="1504.7" y1="1608.6" x2="1504.7" y2="1622.8"/>
<line x1="1563.9" y1="1608.6" x2="1563.9" y2="1622.8"/>
<line x1="1623.1" y1="1608.6" x2="1623.1" y2="1639.2"/>
<line x1="1682.2" y1="1608.6" x2="1682.2" y2="1622.8"/>
<line x1="1741.4" y1="1608.6" x2="1741.4" y2="1622.8"/>
<line x1="1800.6" y1="1608.6" x2="1800.6" y2="1622.8"/>
<line x1="1859.8" y1="1608.6" x2="1859.8" y2="1639.2"/>
<line x1="1919.0" y1="1608.6" x2="1919.0" y2="1622.8"/>
<line x1="1978.2" y1="1608.6" x2="1978.2" y2="1622.8"/>
<line x1="2037.4" y1="1608.6" x2="2037.4" y2="1622.8"/>
<line x1="2096.6" y1="1608.6" x2="2096.6" y2="1639.2"/>
<line x1="2155.7" y1="1608.6" x2="2155.7" y2="1622.8"/>
<line x1="2214.9" y1="1608.6" x2="2214.9" y2="1622.8"/>
<line x1="2274.1" y1="1608.6" x2="2274.1" y2="1622.8"/>
<line x1="2333.3" y1="1608.6" x2="2333.3" y2="1639.2"/>
</g>
<g>
<line x1="1671.2" y1="415.9" x2="1683.5" y2="386" stroke="#000" stroke-width="2"/>
<polygon points="1700.3,349.4 1673.6,381.2 1682.5,386.5 1691.9,390.6 1695.6,382.2 1698.4,368" fill="#000"/>
</g>
<g font-family="'Liberation Sans', Arial, Helvetica, sans-serif" fill="#000" stroke="#000" stroke-width="0.8">
<g font-size="65">
<text x="206.0" y="1711.0" text-anchor="middle">4000</text>
<text x="439.3" y="1711.0" text-anchor="middle">3600</text>
<text x="676.1" y="1711.0" text-anchor="middle">3200</text>
<text x="912.8" y="1711.0" text-anchor="middle">2800</text>
<text x="1149.6" y="1711.0" text-anchor="middle">2400</text>
<text x="1386.3" y="1711.0" text-anchor="middle">2000</text>
<text x="1623.1" y="1711.0" text-anchor="middle">1600</text>
<text x="1859.8" y="1711.0" text-anchor="middle">1200</text>
<text x="2096.6" y="1711.0" text-anchor="middle">800</text>
<text x="2333.3" y="1711.0" text-anchor="middle">400</text>
</g>
<text x="912.5" y="1845.0" font-size="83.00" textLength="641.2" lengthAdjust="spacing">Wavenumber (cm</text>
<text x="1549.8" y="1811.4" font-size="57.50">-1</text>
<text x="1599.4" y="1845.0" font-size="83.00">)</text>
<text transform="translate(102.5,1183.8) rotate(-90)" font-size="83.00" textLength="724.2" lengthAdjust="spacing">Transmittance (a.u.)</text>
<text x="216.0" y="137.0" font-size="54.00">ZIF-7</text>
<text x="214.5" y="908.4" font-size="54.00" textLength="338.4" lengthAdjust="spacing">Benzimidazole</text>
<text x="215.9" y="1385.2" font-size="54.00" textLength="560.8" lengthAdjust="spacing">Zinc nitrate hexahydrate</text>
<text x="1458.7" y="474.1" font-size="46.00" textLength="294.5" lengthAdjust="spacing">aromatic C=C</text>
<text x="1787.7" y="477.0" font-size="46.00" textLength="81.3" lengthAdjust="spacing">C-N</text>
<text x="2048.1" y="544.3" font-size="46.00" textLength="269.7" lengthAdjust="spacing">bending C-H</text>
<text x="1943.3" y="928.2" font-size="46.00" textLength="82.6" lengthAdjust="spacing">C-N</text>
<text x="776.6" y="1145.8" font-size="46.00" textLength="240.5" lengthAdjust="spacing">stretch N-H</text>
<text x="1792.8" y="1330.2" font-size="46.00" textLength="81.9" lengthAdjust="spacing">C-N</text>
<text x="2148.6" y="1293.3" font-size="46.00" textLength="170.8" lengthAdjust="spacing">bending</text>
<text x="2150.1" y="1352.2" font-size="46.00" textLength="81.4" lengthAdjust="spacing">C-H</text>
</g>
</svg>
</body></html>
